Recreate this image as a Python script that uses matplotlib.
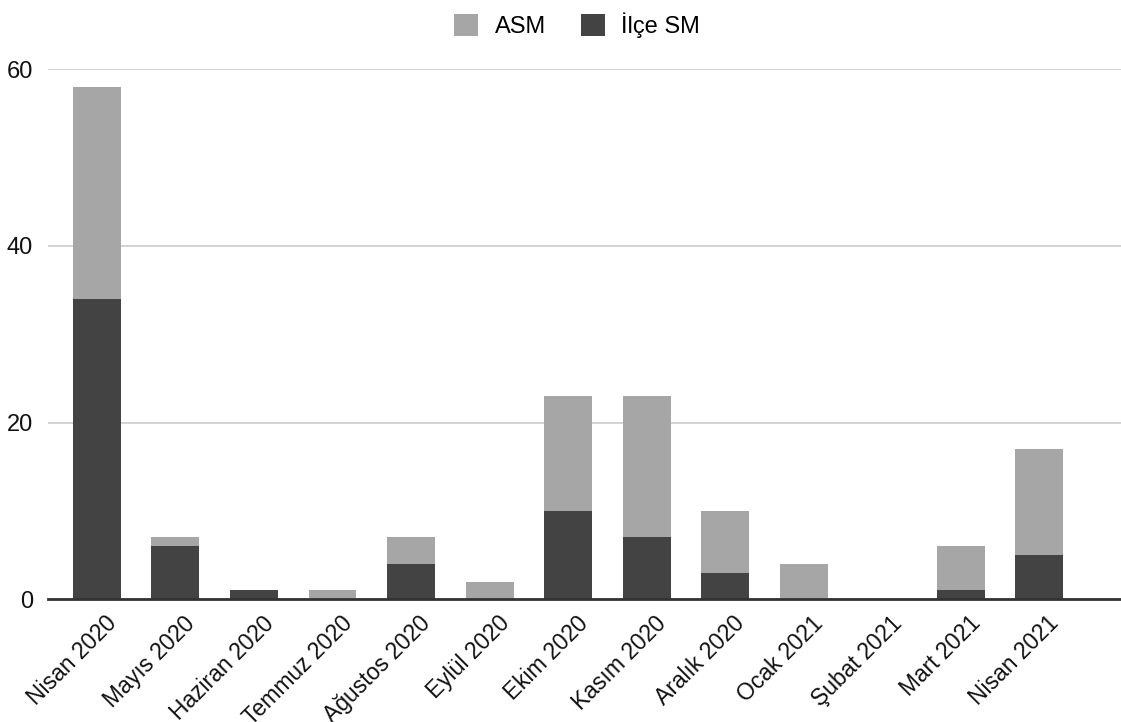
import numpy as np
import matplotlib.pyplot as plt
import matplotlib.transforms as mtransforms

plt.rcParams["font.family"] = ["Liberation Sans", "DejaVu Sans"]

months = ["Nisan 2020", "Mayıs 2020", "Haziran 2020", "Temmuz 2020", "Ağustos 2020",
          "Eylül 2020", "Ekim 2020", "Kasım 2020", "Aralık 2020", "Ocak 2021",
          "Şubat 2021", "Mart 2021", "Nisan 2021"]
ilce_sm = [34, 6, 1, 0, 4, 0, 10, 7, 3, 0, 0, 1, 5]
asm = [24, 1, 0, 1, 3, 2, 13, 16, 7, 4, 0, 5, 12]

c_asm = "#a6a6a6"
c_ilce = "#434343"

fig = plt.figure(figsize=(11.21, 7.22), dpi=100, facecolor="white")
ax = fig.add_axes([0.043, 0.170, 0.957, 0.734])

x = np.arange(len(months))
w = 0.61
ax.bar(x, ilce_sm, width=w, color=c_ilce, label="İlçe SM", zorder=3)
ax.bar(x, asm, width=w, bottom=ilce_sm, color=c_asm, label="ASM", zorder=3)

ax.set_ylim(0, 60)
ax.set_xlim(-0.62, 13.04)
ax.set_yticks([0, 20, 40, 60])
ax.yaxis.grid(True, color="#cccccc", linewidth=1.2, zorder=0)
ax.set_axisbelow(True)
for s in ["top", "right", "left"]:
    ax.spines[s].set_visible(False)
ax.spines["bottom"].set_color("#333333")
ax.spines["bottom"].set_linewidth(2)
ax.spines["bottom"].set_zorder(4)
ax.tick_params(axis="both", length=0, colors="#111111")
ax.tick_params(axis="y", pad=11, labelsize=17)
ax.set_xticks(x)
ax.set_xticklabels(months, rotation=45, ha="right", rotation_mode="anchor", fontsize=16.5)
ax.tick_params(axis="x", pad=9)

# shift rotated labels a little to the right, as in the original
offset = mtransforms.ScaledTranslation(8 / 100, 0, fig.dpi_scale_trans)
for lbl in ax.get_xticklabels():
    lbl.set_transform(lbl.get_transform() + offset)

handles, labels = ax.get_legend_handles_labels()
fig.legend(handles[::-1], labels[::-1], loc="upper center", bbox_to_anchor=(0.515, 1.012),
           ncol=2, frameon=False, fontsize=17, handlelength=1.0, handleheight=1.0,
           columnspacing=1.5, handletextpad=0.7)

fig.savefig("out.png", dpi=100, facecolor="white")
